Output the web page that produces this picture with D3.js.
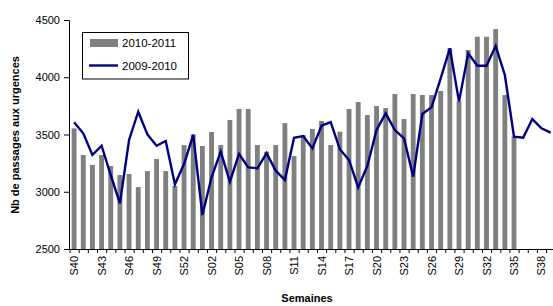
<!DOCTYPE html>
<html>
<head>
<meta charset="utf-8">
<script src="https://cdn.jsdelivr.net/npm/d3@7"></script>
<style>
  body { margin: 0; background: #fff; }
  text { font-family: Arial, "Liberation Sans", sans-serif; }
</style>
</head>
<body>
<svg id="chart" width="553" height="306"></svg>
<script>
var weeks = ["S40","S41","S42","S43","S44","S45","S46","S47","S48","S49","S50","S51","S52","S53",
  "S01","S02","S03","S04","S05","S06","S07","S08","S09","S10","S11","S12","S13","S14","S15","S16",
  "S17","S18","S19","S20","S21","S22","S23","S24","S25","S26","S27","S28","S29","S30","S31","S32",
  "S33","S34","S35","S36","S37","S38","S39"];

// 2010-2011 (bars), stops at S35
var bars2010 = [3554,3321,3234,3321,3225,3146,3155,3041,3181,3286,3181,3050,3408,3502,
  3400,3522,3408,3627,3723,3723,3408,3350,3408,3600,3312,3496,3548,3618,3408,3525,
  3723,3784,3670,3749,3731,3854,3635,3854,3845,3845,3880,4253,3790,4238,4354,4354,
  4421,3845,3481];

// 2009-2010 (line)
var line2009 = [3607,3510,3321,3402,3146,2899,3452,3699,3500,3402,3443,3065,3242,3496,
  2797,3126,3350,3088,3330,3213,3205,3336,3184,3103,3472,3487,3379,3577,3609,3371,
  3277,3039,3225,3539,3685,3539,3467,3132,3679,3738,3991,4253,3787,4209,4101,4101,
  4273,4020,3481,3472,3635,3554,3516];

var yTicks = [2500,3000,3500,4000,4500];

var svg = d3.select("#chart");

var x = d3.scaleBand()
    .domain(weeks)
    .range([69.5, 69.5 + 53 * 9.165])
    .paddingInner(0.47)
    .paddingOuter(0.235);

var y = d3.scaleLinear()
    .domain([2500, 4500])
    .range([249, 20]);

// bars
svg.append("g")
    .selectAll("rect")
    .data(bars2010)
    .join("rect")
    .attr("x", (d, i) => x(weeks[i]))
    .attr("y", d => y(d))
    .attr("width", x.bandwidth())
    .attr("height", d => y(2500) - y(d))
    .attr("fill", "#808080");

// line
var line = d3.line()
    .x((d, i) => x(weeks[i]) + x.bandwidth() / 2)
    .y(d => y(d));

svg.append("path")
    .attr("d", line(line2009))
    .attr("fill", "none")
    .attr("stroke", "#000080")
    .attr("stroke-width", 2.4)
    .attr("stroke-linejoin", "miter");

// y axis
var yAxis = svg.append("g")
    .attr("transform", "translate(69,0)")
    .call(d3.axisLeft(y).tickValues(yTicks).tickSize(5).tickPadding(4).tickFormat(d3.format("d")));
yAxis.select(".domain").attr("stroke", "#000");
yAxis.selectAll("text")
    .attr("font-size", "11px")
    .attr("fill", "#000")
    .attr("font-family", "Arial, 'Liberation Sans', sans-serif");

// x axis line
svg.append("line")
    .attr("x1", 69).attr("x2", 553)
    .attr("y1", 249.5).attr("y2", 249.5)
    .attr("stroke", "#000");

// x ticks between categories
var step = x.step();
svg.append("g")
    .selectAll("line")
    .data(weeks)
    .join("line")
    .attr("x1", (d) => x(d) - step * 0.235 + 0.5)
    .attr("x2", (d) => x(d) - step * 0.235 + 0.5)
    .attr("y1", 249)
    .attr("y2", 253)
    .attr("stroke", "#000");

// x labels every 3 weeks
svg.append("g")
    .selectAll("text")
    .data(weeks.filter((d, i) => i % 3 === 0))
    .join("text")
    .attr("transform", d => "translate(" + (x(d) + x.bandwidth() / 2 + 4) + ",256) rotate(-90)")
    .attr("text-anchor", "end")
    .attr("font-size", "11px")
    .attr("fill", "#000")
    .text(d => d);

// axis titles
svg.append("text")
    .attr("x", 307)
    .attr("y", 302)
    .attr("text-anchor", "middle")
    .attr("font-size", "11px")
    .attr("font-weight", "bold")
    .text("Semaines");

svg.append("text")
    .attr("transform", "translate(19,135) rotate(-90)")
    .attr("text-anchor", "middle")
    .attr("font-size", "11px")
    .attr("font-weight", "bold")
    .text("Nb de passages aux urgences");

// legend
var legend = svg.append("g");
legend.append("rect")
    .attr("x", 82.5).attr("y", 32.5)
    .attr("width", 106).attr("height", 46.5)
    .attr("fill", "#fff")
    .attr("stroke", "#000");
legend.append("rect")
    .attr("x", 90).attr("y", 39)
    .attr("width", 28).attr("height", 8)
    .attr("fill", "#808080");
legend.append("line")
    .attr("x1", 89).attr("x2", 118)
    .attr("y1", 65.5).attr("y2", 65.5)
    .attr("stroke", "#000080")
    .attr("stroke-width", 2.4);
legend.append("text")
    .attr("x", 122).attr("y", 47)
    .attr("font-size", "11.5px")
    .text("2010-2011");
legend.append("text")
    .attr("x", 122).attr("y", 70)
    .attr("font-size", "11.5px")
    .text("2009-2010");
</script>
</body>
</html>
